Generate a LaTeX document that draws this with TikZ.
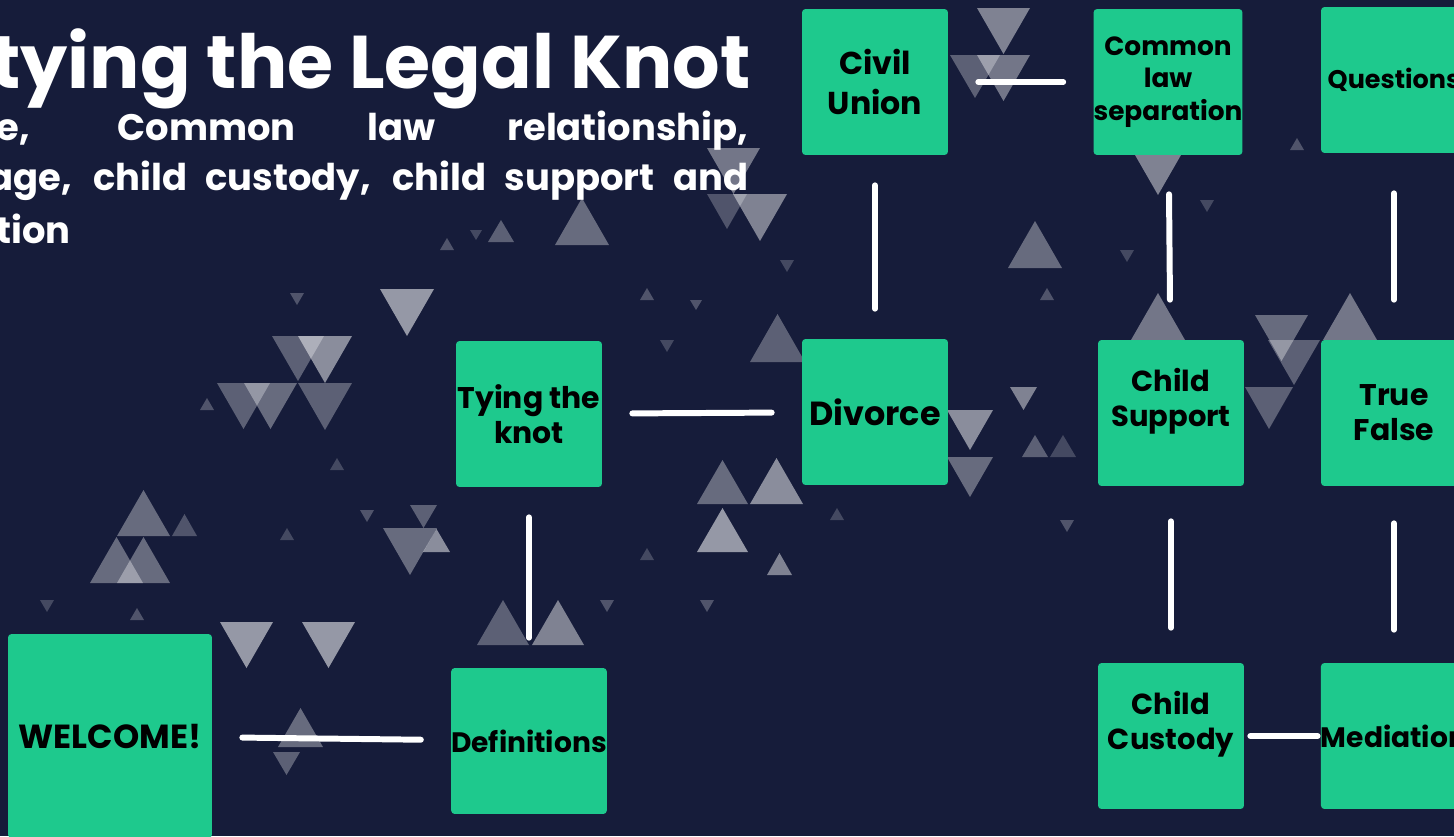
\documentclass[tikz,border=0pt]{standalone}
\usepackage{fontspec}
\setmainfont{Poppins}
\definecolor{navy}{HTML}{161C3A}
\definecolor{mint}{HTML}{1EC98D}

\tikzset{
  card/.style={fill=mint, rounded corners=2pt, minimum size=2.92cm, inner sep=0pt,
    align=center, text=black, font=\bfseries\fontsize{17}{20}\selectfont},
  link/.style={draw=white, line width=3.4pt, line cap=round,
    shorten >=0.6cm, shorten <=0.6cm},
  tri/.style={fill=white, fill opacity=#1},
  headline/.style={text=white, inner sep=0pt, font=\bfseries\fontsize{42.5}{48}\selectfont},
  subline/.style={text=white, inner sep=0pt, font=\bfseries\fontsize{21}{25}\selectfont},
}

\begin{document}
\begin{tikzpicture}[x=0.02cm, y=-0.02cm]
\useasboundingbox (0,0) rectangle (1454,836);
\clip (0,0) rectangle (1454,836);
\path [fill=navy] (0,0) rectangle (1454,836);

% big triangles pointing down
\path [tri=.55] (380,289) -- ++(54,0) -- ++(-27,47) -- cycle;
\path [tri=.3] (272,336) -- ++(52,0) -- ++(-26,45) -- cycle;
\path [tri=.5] (298,336) -- ++(54,0) -- ++(-27,47) -- cycle;
\path [tri=.3] (217,383) -- ++(53,0) -- ++(-26.5,46) -- cycle;
\path [tri=.35] (244,383) -- ++(53,0) -- ++(-26.5,46) -- cycle;
\path [tri=.3] (298,383) -- ++(54,0) -- ++(-27,47) -- cycle;
\path [tri=.55] (220,622) -- ++(53,0) -- ++(-26.5,46) -- cycle;
\path [tri=.55] (302,622) -- ++(53,0) -- ++(-26.5,46) -- cycle;
\path [tri=.35] (383,528) -- ++(54,0) -- ++(-27,47) -- cycle;
\path [tri=.3] (410,505) -- ++(27,0) -- ++(-13.5,23) -- cycle;
\path [tri=.4] (707,148) -- ++(53,0) -- ++(-26.5,46) -- cycle;
\path [tri=.25] (707,194) -- ++(40,0) -- ++(-20,35) -- cycle;
\path [tri=.45] (733,194) -- ++(54,0) -- ++(-27,47) -- cycle;
\path [tri=.5] (947,410) -- ++(46,0) -- ++(-23,40) -- cycle;
\path [tri=.35] (947,457) -- ++(46,0) -- ++(-23,40) -- cycle;
\path [tri=.45] (1010,387) -- ++(27,0) -- ++(-13.5,23) -- cycle;
\path [tri=.35] (1255,315) -- ++(53,0) -- ++(-26.5,46) -- cycle;
\path [tri=.3] (1268,340) -- ++(52,0) -- ++(-26,45) -- cycle;
\path [tri=.3] (1245,387) -- ++(48,0) -- ++(-24,42) -- cycle;
\path [tri=.45] (1135,155) -- ++(46,0) -- ++(-23,40) -- cycle;
\path [tri=.45] (977,8) -- ++(53,0) -- ++(-26.5,46) -- cycle;
\path [tri=.3] (950,55) -- ++(50,0) -- ++(-25,43) -- cycle;
\path [tri=.4] (977,55) -- ++(53,0) -- ++(-26.5,46) -- cycle;
\path [tri=.3] (273,752) -- ++(27,0) -- ++(-13.5,23) -- cycle;

% big triangles pointing up
\path [tri=.35] (117,536) -- ++(53,0) -- ++(-26.5,-46) -- cycle;
\path [tri=.35] (90,583) -- ++(53,0) -- ++(-26.5,-46) -- cycle;
\path [tri=.35] (117,583) -- ++(53,0) -- ++(-26.5,-46) -- cycle;
\path [tri=.25] (172,536) -- ++(25,0) -- ++(-12.5,-22) -- cycle;
\path [tri=.5] (423,552) -- ++(27,0) -- ++(-13.5,-23) -- cycle;
\path [tri=.35] (697,504) -- ++(51,0) -- ++(-25.5,-44) -- cycle;
\path [tri=.5] (750,504) -- ++(53,0) -- ++(-26.5,-46) -- cycle;
\path [tri=.55] (697,552) -- ++(51,0) -- ++(-25.5,-44) -- cycle;
\path [tri=.45] (767,575) -- ++(25,0) -- ++(-12.5,-22) -- cycle;
\path [tri=.35] (1008,268) -- ++(54,0) -- ++(-27,-47) -- cycle;
\path [tri=.3] (750,362) -- ++(55,0) -- ++(-27.5,-48) -- cycle;
\path [tri=.4] (1131,340) -- ++(54,0) -- ++(-27,-47) -- cycle;
\path [tri=.4] (1323,340) -- ++(54,0) -- ++(-27,-47) -- cycle;
\path [tri=.3] (1022,457) -- ++(26,0) -- ++(-13,-22) -- cycle;
\path [tri=.2] (1050,457) -- ++(26,0) -- ++(-13,-22) -- cycle;
\path [tri=.35] (555,245) -- ++(54,0) -- ++(-27,-47) -- cycle;
\path [tri=.3] (488,242) -- ++(26,0) -- ++(-13,-22) -- cycle;
\path [tri=.3] (477,645) -- ++(52,0) -- ++(-26,-45) -- cycle;
\path [tri=.45] (532,645) -- ++(52,0) -- ++(-26,-45) -- cycle;
\path [tri=.35] (278,747) -- ++(45,0) -- ++(-22.5,-39) -- cycle;

% small scattered triangles
\path [tri=.25] (290,293) -- ++(14,0) -- ++(-7,12) -- cycle;
\path [tri=.25] (440,250) -- ++(14,0) -- ++(-7,-12) -- cycle;
\path [tri=.2] (470,230) -- ++(12,0) -- ++(-6,10) -- cycle;
\path [tri=.25] (640,300) -- ++(14,0) -- ++(-7,-12) -- cycle;
\path [tri=.2] (660,340) -- ++(14,0) -- ++(-7,12) -- cycle;
\path [tri=.25] (690,300) -- ++(12,0) -- ++(-6,10) -- cycle;
\path [tri=.2] (330,470) -- ++(14,0) -- ++(-7,-12) -- cycle;
\path [tri=.25] (360,510) -- ++(14,0) -- ++(-7,12) -- cycle;
\path [tri=.2] (280,540) -- ++(14,0) -- ++(-7,-12) -- cycle;
\path [tri=.25] (600,600) -- ++(14,0) -- ++(-7,12) -- cycle;
\path [tri=.2] (640,560) -- ++(14,0) -- ++(-7,-12) -- cycle;
\path [tri=.25] (700,600) -- ++(14,0) -- ++(-7,12) -- cycle;
\path [tri=.2] (1200,200) -- ++(14,0) -- ++(-7,12) -- cycle;
\path [tri=.25] (1290,150) -- ++(14,0) -- ++(-7,-12) -- cycle;
\path [tri=.2] (1120,250) -- ++(14,0) -- ++(-7,12) -- cycle;
\path [tri=.25] (1040,300) -- ++(14,0) -- ++(-7,-12) -- cycle;
\path [tri=.2] (780,260) -- ++(14,0) -- ++(-7,12) -- cycle;
\path [tri=.25] (200,410) -- ++(14,0) -- ++(-7,-12) -- cycle;
\path [tri=.2] (40,600) -- ++(14,0) -- ++(-7,12) -- cycle;
\path [tri=.25] (130,620) -- ++(14,0) -- ++(-7,-12) -- cycle;
\path [tri=.2] (830,520) -- ++(14,0) -- ++(-7,-12) -- cycle;
\path [tri=.25] (1060,520) -- ++(14,0) -- ++(-7,12) -- cycle;

% heading
\node [headline, anchor=base west] (title) at (-10,88) {tying the Legal Knot};
\node [subline, anchor=base west] (sub1) at (-4,140) {\makebox[15.04cm][s]{e, Common law relationship,}};
\node [subline, anchor=base west] (sub2) at (-12,190) {\makebox[15.2cm][s]{age, child custody, child support and}};
\node [subline, anchor=base west] (sub3) at (-4,243) {tion};

% cards
\node [card, minimum size=4.08cm, font=\bfseries\fontsize{19}{22}\selectfont] (welcome) at (110,736) {WELCOME!};
\node [card, font=\bfseries\fontsize{16}{19}\selectfont] (defs) at (529,741) {Definitions};
\node [card] (knot) at (529,414) {Tying the\\knot};
\node [card, font=\bfseries\fontsize{19}{22}\selectfont] (divorce) at (875,412) {Divorce};
\node [card, font=\bfseries\fontsize{18}{23}\selectfont] (civil) at (875,82) {Civil\\Union};
\node [card, font=\bfseries\fontsize{15}{18.5}\selectfont] (commonlaw) at (1168,82) {Common\\law\\separation};
\node [card, font=\bfseries\fontsize{14.5}{18}\selectfont] (questions) at (1394,80) {Questions};
\node [card, label={[align=center, font=\bfseries\fontsize{16.5}{20}\selectfont, yshift=0.24cm]center:Child\\Support}] (support) at (1171,413) {};
\node [card] (truefalse) at (1394,413) {True\\False};
\node [card, label={[align=center, font=\bfseries\fontsize{16.5}{20}\selectfont, yshift=0.24cm]center:Child\\Custody}] (custody) at (1171,736) {};
\node [card, font=\bfseries\fontsize{16}{19}\selectfont] (mediation) at (1394,736) {Mediation};

% connectors
\draw [link] (welcome) -- (defs);
\draw [link] (defs) -- (knot);
\draw [link] (knot) -- (divorce);
\draw [link] (divorce) -- (civil);
\draw [link] (civil) -- (commonlaw);
\draw [link, shorten <=0.78cm, shorten >=0.8cm] (commonlaw) -- (support);
\draw [link, shorten <=0.8cm, shorten >=0.8cm] (questions) -- (truefalse);
\draw [link, shorten <=0.7cm, shorten >=0.7cm] (support) -- (custody);
\draw [link, shorten <=0.74cm, shorten >=0.66cm] (truefalse) -- (mediation);
\draw [link, shorten <=0.12cm, shorten >=0.06cm] (custody) -- (mediation);
\end{tikzpicture}
\end{document}
